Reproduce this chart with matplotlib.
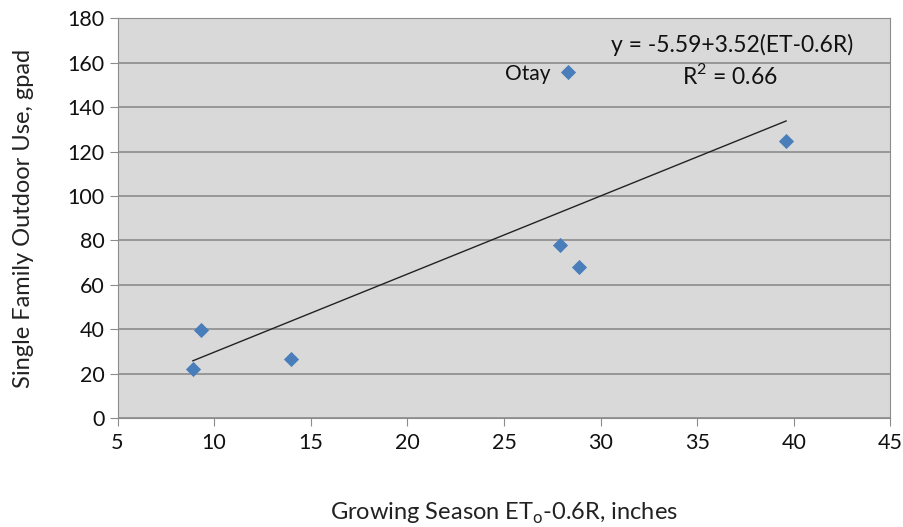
import matplotlib.pyplot as plt
import numpy as np

plt.rcParams['font.family'] = ['Lato', 'DejaVu Sans']

# growing season ET - 0.6R (inches) vs single family outdoor use (gpad)
et_eff = [8.9, 9.3, 14.0, 27.9, 28.9, 28.3, 39.6]
outdoor_use = [22, 39.5, 26.5, 78, 68, 156, 125]
intercept = -5.59
slope = 3.52

fig = plt.figure(figsize=(9.04, 5.27), dpi=100)
ax = fig.add_axes([0.130, 0.207, 0.855, 0.758])
ax.set_facecolor('#d9d9d9')

ax.scatter(et_eff, outdoor_use, marker='D', s=60, color='#4a7ebb', zorder=3, linewidths=0)

xf = np.array([min(et_eff), max(et_eff)])
ax.plot(xf, intercept + slope * xf, color='#222222', lw=1.0, zorder=2)

ax.set_xlim(5, 45)
ax.set_ylim(0, 180)
ax.set_xticks(np.arange(5, 46, 5))
ax.set_yticks(np.arange(0, 181, 20))
ax.yaxis.grid(True, color='#8c8c8c', lw=1.2)
ax.set_axisbelow(True)
for s in ax.spines.values():
    s.set_color('#8c8c8c')
ax.tick_params(colors='#8c8c8c', labelcolor='#111111', labelsize=15.5, length=6, direction='out')
ax.tick_params(axis='x', pad=5)

ax.set_xlabel('Growing Season ET$_\\mathregular{o}$-0.6R, inches', fontsize=17, labelpad=34, color='#222222')
ax.set_ylabel('Single Family Outdoor Use, gpad', fontsize=17, labelpad=24, color='#222222')

ax.text(27.4, 155, 'Otay', fontsize=15, ha='right', va='center', color='#111111')
ax.text(36.8, 168, 'y = -5.59+3.52(ET-0.6R)', fontsize=16.5, ha='center', va='center', color='#111111')
ax.text(36.7, 154.5, 'R$^\\mathregular{2}$ = 0.66', fontsize=16.5, ha='center', va='center', color='#111111')

fig.savefig('out.png', dpi=100)
